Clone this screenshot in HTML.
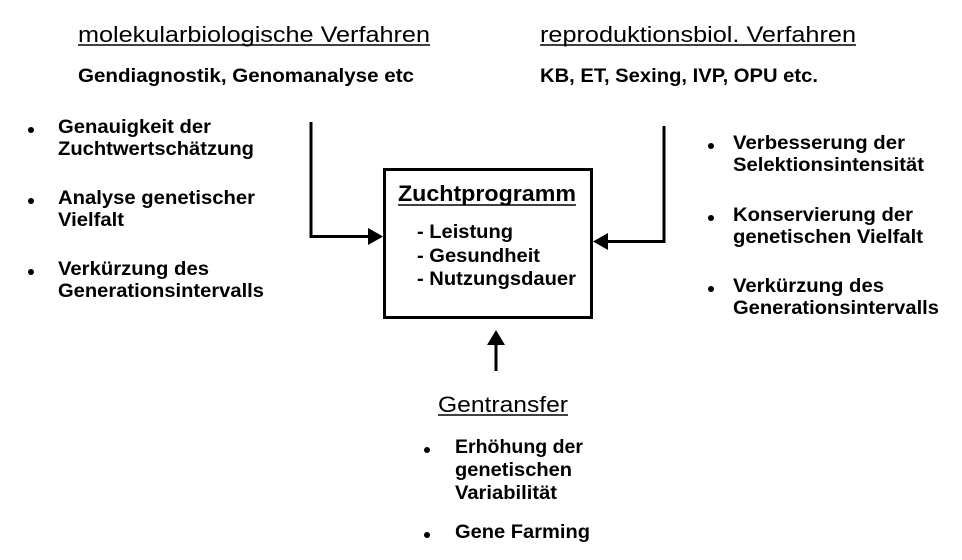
<!DOCTYPE html>
<html><head><meta charset="utf-8"><style>
html,body{margin:0;padding:0;background:#fff;width:962px;height:560px;overflow:hidden}
svg{display:block}
text{font-family:"Liberation Sans",Arial,sans-serif;fill:#000}
.b{font-weight:bold;font-size:19.5px}
.h{font-size:22px}
</style></head><body>
<svg width="962" height="560" viewBox="0 0 962 560" xmlns="http://www.w3.org/2000/svg">
<text class="h" x="78" y="42" textLength="352" lengthAdjust="spacingAndGlyphs">molekularbiologische Verfahren</text>
<line x1="78" y1="45" x2="430" y2="45" stroke="#000" stroke-width="1.5"/>
<text class="b" x="78" y="82" textLength="336" lengthAdjust="spacingAndGlyphs">Gendiagnostik, Genomanalyse  etc</text>
<text class="h" x="540" y="42" textLength="316" lengthAdjust="spacingAndGlyphs">reproduktionsbiol. Verfahren</text>
<line x1="540" y1="45" x2="856" y2="45" stroke="#000" stroke-width="1.5"/>
<text class="b" x="540" y="82" textLength="278" lengthAdjust="spacingAndGlyphs">KB, ET, Sexing, IVP, OPU etc.</text>

<g>
<circle cx="31" cy="130" r="3"/><circle cx="31" cy="201" r="3"/><circle cx="31" cy="272" r="3"/>
<text class="b" x="58" y="133" textLength="153" lengthAdjust="spacingAndGlyphs">Genauigkeit der</text>
<text class="b" x="58" y="155" textLength="196" lengthAdjust="spacingAndGlyphs">Zuchtwertschätzung</text>
<text class="b" x="58" y="204" textLength="197" lengthAdjust="spacingAndGlyphs">Analyse genetischer</text>
<text class="b" x="58" y="226" textLength="66" lengthAdjust="spacingAndGlyphs">Vielfalt</text>
<text class="b" x="58" y="275" textLength="151" lengthAdjust="spacingAndGlyphs">Verkürzung des</text>
<text class="b" x="58" y="297" textLength="206" lengthAdjust="spacingAndGlyphs">Generationsintervalls</text>
</g>

<g>
<circle cx="711" cy="146" r="3"/><circle cx="711" cy="218" r="3"/><circle cx="711" cy="289" r="3"/>
<text class="b" x="733" y="149" textLength="172" lengthAdjust="spacingAndGlyphs">Verbesserung der</text>
<text class="b" x="733" y="171" textLength="191" lengthAdjust="spacingAndGlyphs">Selektionsintensität</text>
<text class="b" x="733" y="221" textLength="180" lengthAdjust="spacingAndGlyphs">Konservierung der</text>
<text class="b" x="733" y="243" textLength="190" lengthAdjust="spacingAndGlyphs">genetischen Vielfalt</text>
<text class="b" x="733" y="292" textLength="151" lengthAdjust="spacingAndGlyphs">Verkürzung des</text>
<text class="b" x="733" y="314" textLength="206" lengthAdjust="spacingAndGlyphs">Generationsintervalls</text>
</g>

<rect x="384.5" y="169.5" width="207" height="148" fill="none" stroke="#000" stroke-width="3"/>
<text x="398" y="201" style="font-size:22px;font-weight:bold" textLength="178" lengthAdjust="spacingAndGlyphs">Zuchtprogramm</text>
<line x1="398" y1="205" x2="576" y2="205" stroke="#000" stroke-width="1.5"/>
<text class="b" x="417" y="238" textLength="96" lengthAdjust="spacingAndGlyphs">- Leistung</text>
<text class="b" x="417" y="262" textLength="123" lengthAdjust="spacingAndGlyphs">- Gesundheit</text>
<text class="b" x="417" y="285" textLength="159" lengthAdjust="spacingAndGlyphs">- Nutzungsdauer</text>

<polyline points="311,122 311,236.5 370,236.5" fill="none" stroke="#000" stroke-width="3"/>
<polygon points="368,228 383,236.5 368,245"/>
<polyline points="664,126 664,241.5 606,241.5" fill="none" stroke="#000" stroke-width="3"/>
<polygon points="608,233 593,241.5 608,250"/>
<line x1="496" y1="371" x2="496" y2="342" stroke="#000" stroke-width="3"/>
<polygon points="487,345 496,330 505,345"/>

<text class="h" x="438" y="412" textLength="130" lengthAdjust="spacingAndGlyphs">Gentransfer</text>
<line x1="438" y1="415" x2="568" y2="415" stroke="#000" stroke-width="1.5"/>
<circle cx="427" cy="450" r="3"/><circle cx="427" cy="535" r="3"/>
<text class="b" x="455" y="453" textLength="128" lengthAdjust="spacingAndGlyphs">Erhöhung der</text>
<text class="b" x="455" y="476" textLength="117" lengthAdjust="spacingAndGlyphs">genetischen</text>
<text class="b" x="455" y="499" textLength="102" lengthAdjust="spacingAndGlyphs">Variabilität</text>
<text class="b" x="455" y="538" textLength="135" lengthAdjust="spacingAndGlyphs">Gene Farming</text>
</svg>
</body></html>
